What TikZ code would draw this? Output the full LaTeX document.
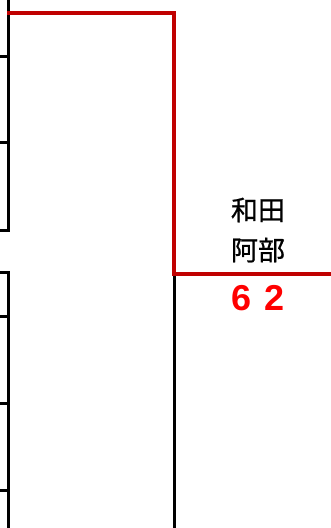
\documentclass[tikz,border=0pt]{standalone}
\usepackage{fontspec}
\setmainfont{Liberation Sans}
\newfontfamily\cjk[FakeBold=0.8]{Noto Sans CJK JP}
\definecolor{darkred}{HTML}{C00000}
\tikzset{
  bk/.style={draw=black,line width=3pt},
  rd/.style={draw=darkred,line width=4.8pt},
  pname/.style={font=\cjk\fontsize{27}{30}\selectfont,inner sep=0pt,anchor=center},
  score/.style={font=\bfseries\fontsize{36}{40}\selectfont,text=red,inner sep=0pt,anchor=center}
}
\begin{document}
\begin{tikzpicture}[x=1pt,y=-1pt]
\useasboundingbox (0,0) rectangle (331,528);
% left bracket, upper group
\coordinate (u0) at (8,0);
\coordinate (u3) at (8,230);
\draw[bk] (u0) -- (u3) -- (0,230);
\draw[bk] (0,56) -- (8,56);
\draw[bk] (0,142) -- (8,142);
% left bracket, lower group
\coordinate (l0) at (0,272);
\coordinate (l1) at (8,272);
\coordinate (l4) at (8,528);
\draw[bk] (l0) -- (l1) -- (l4);
\draw[bk] (0,316) -- (8,316);
\draw[bk] (0,403) -- (8,403);
\draw[bk] (0,490) -- (8,490);
% lower vertical from second round
\coordinate (m0) at (174,274);
\coordinate (m1) at (174,528);
\draw[bk] (m0) -- (m1);
% winner red path
\coordinate (r0) at (7,13);
\coordinate (r1) at (174,13);
\coordinate (r2) at (174,274);
\coordinate (r3) at (331,274);
\draw[rd,line join=miter] (r0) -- (r1) -- (r2) -- (r3);
% labels
\node[pname] (n1) at (258,210) {和田};
\node[pname] (n2) at (258,250) {阿部};
\node[score] (s) at (258,298) {6\hspace{0.35em}2};
\end{tikzpicture}
\end{document}
